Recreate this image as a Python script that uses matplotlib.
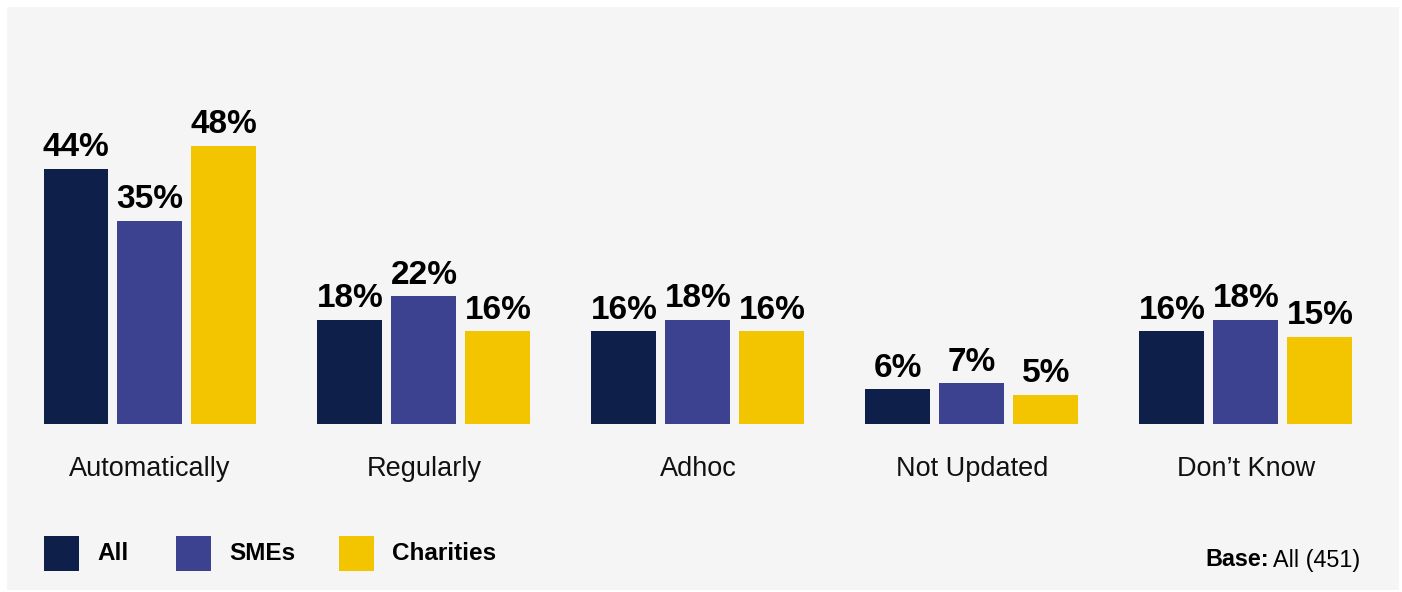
import matplotlib.pyplot as plt
import numpy as np
from matplotlib.patches import Rectangle

plt.rcParams['font.family'] = ['Liberation Sans', 'DejaVu Sans']

categories = ['Automatically', 'Regularly', 'Adhoc', 'Not Updated', 'Don\u2019t Know']
series = ['All', 'SMEs', 'Charities']
all_vals = [44, 18, 16, 6, 16]
sme_vals = [35, 22, 18, 7, 18]
charity_vals = [48, 16, 16, 5, 15]
colors = ['#0e2049', '#3c4290', '#f2c500']

W, H = 1402, 592
fig = plt.figure(figsize=(W / 100, H / 100), dpi=100)
fig.patch.set_facecolor('white')

# grey panel behind everything
fig.patches.append(Rectangle((7 / W, 2 / H), (1399 - 7) / W, (590 - 7) / H,
                             transform=fig.transFigure, facecolor='#f5f5f5',
                             edgecolor='none', zorder=-5))

# axes mapped so one x unit = one group (274 px), y in percent (5.8 px per %)
base_px = 424
px_per_pct = 5.8
ax = fig.add_axes([0, (H - base_px) / H, 1, base_px / H])
ax.set_zorder(2)
ax.set_facecolor('none')
ax.patch.set_alpha(0)
ax.set_xlim(-150 / 274, (W - 150) / 274)
ax.set_ylim(0, base_px / px_per_pct)

x = np.arange(len(categories))
width = 65 / 274
step = 74 / 274
for k, (vals, col) in enumerate(zip([all_vals, sme_vals, charity_vals], colors)):
    bars = ax.bar(x + (k - 1) * step, vals, width, color=col, zorder=2)
    for b, v in zip(bars, vals):
        ax.annotate(f'{v}%', (b.get_x() + b.get_width() / 2, v),
                    xytext=(0, 9), textcoords='offset points',
                    ha='center', va='baseline', fontsize=24,
                    fontweight='bold', color='black')

ax.set_xticks(x)
ax.set_xticklabels(categories, fontsize=19.5, color='#111111')
ax.tick_params(axis='x', length=0, pad=23)
ax.set_yticks([])
for s in ax.spines.values():
    s.set_visible(False)

# legend squares drawn by hand along the bottom
leg_x = [44, 176, 339]
for lx, name, col in zip(leg_x, series, colors):
    fig.patches.append(Rectangle((lx / W, (H - 571) / H), 35 / W, 35 / H,
                                 transform=fig.transFigure, facecolor=col,
                                 edgecolor='none', zorder=3))
    fig.text((lx + 53) / W, (H - 553) / H, name, fontsize=17.5,
             fontweight='bold', va='center', ha='left')

t = fig.text(1360 / W, (H - 560) / H, 'All (451)', fontsize=16.8,
             va='center', ha='right')
fig.canvas.draw()
bb = t.get_window_extent()
fig.text((bb.x0 - 4) / W, (H - 560) / H, 'Base:', fontsize=16.8,
         fontweight='bold', va='center', ha='right')

fig.savefig('out.png', dpi=100, facecolor='white')
